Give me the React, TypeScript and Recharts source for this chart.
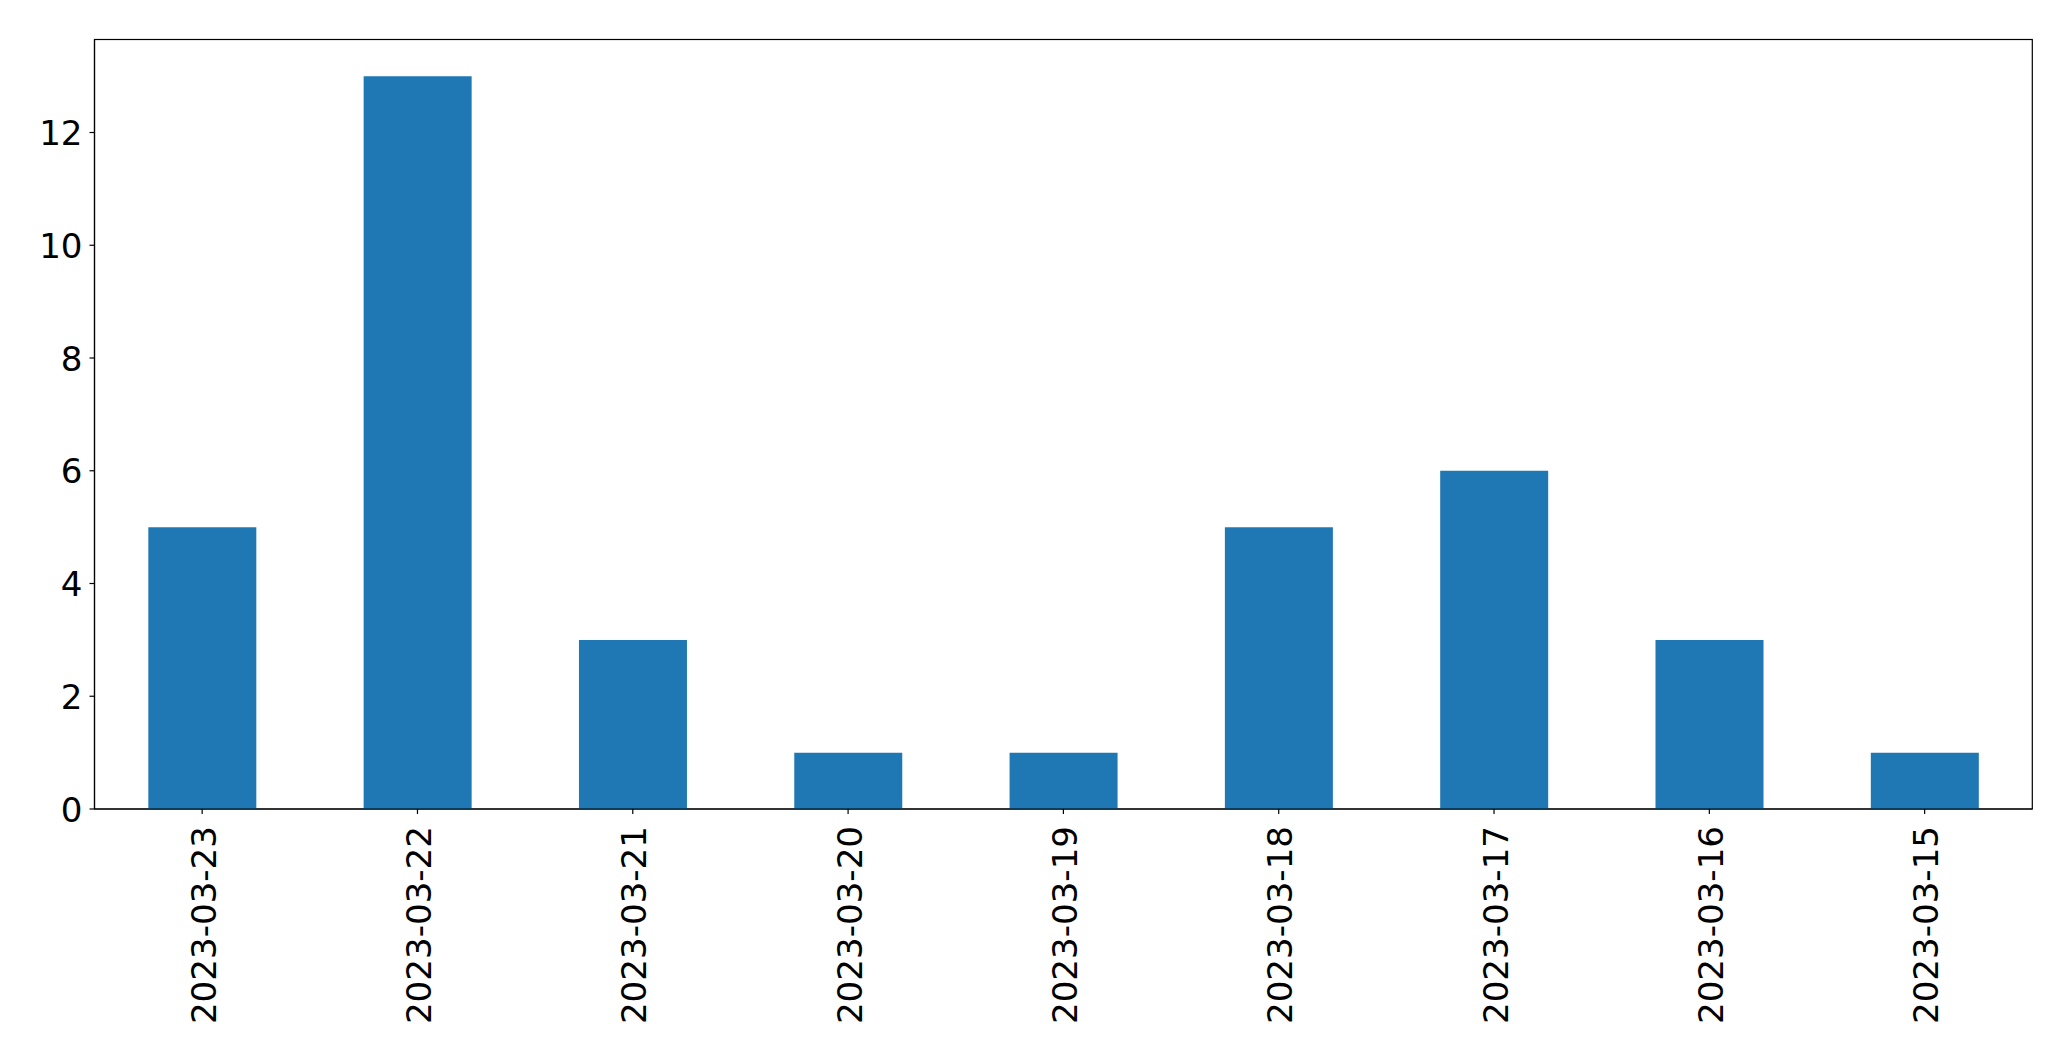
import { BarChart, Bar, XAxis, YAxis, usePlotArea } from "recharts";

const dates = [
  "2023-03-23",
  "2023-03-22",
  "2023-03-21",
  "2023-03-20",
  "2023-03-19",
  "2023-03-18",
  "2023-03-17",
  "2023-03-16",
  "2023-03-15",
];
const counts = [5, 13, 3, 1, 1, 5, 6, 3, 1];
const yTicks = [0, 2, 4, 6, 8, 10, 12];

const data = dates.map((d, i) => ({ date: d, count: counts[i] }));

const FONT = "'DejaVu Sans', sans-serif";
const FS = 34.1;

function XTick(props: any) {
  const { x, y, payload } = props;
  return (
    <g>
      <line x1={x} y1={y} x2={x} y2={y + 5} stroke="#000" strokeWidth={1.2} />
      <text
        x={x}
        y={y + 17}
        dy={13.5}
        transform={`rotate(-90, ${x}, ${y + 17})`}
        textAnchor="end"
        fontFamily={FONT}
        fontSize={FS}
        fill="#000"
      >
        {payload.value}
      </text>
    </g>
  );
}

function YTick(props: any) {
  const { x, y, payload } = props;
  return (
    <g>
      <line x1={x - 5} y1={y} x2={x} y2={y} stroke="#000" strokeWidth={1.2} />
      <text x={x - 12} y={y} dy={12.5} textAnchor="end" fontFamily={FONT} fontSize={FS} fill="#000">
        {payload.value}
      </text>
    </g>
  );
}

function Frame() {
  const area = usePlotArea();
  if (!area) return null;
  return (
    <rect
      x={area.x}
      y={area.y}
      width={area.width}
      height={area.height}
      fill="none"
      stroke="#000"
      strokeWidth={1.2}
    />
  );
}

export default function App() {
  return (
    <div style={{ position: "absolute", left: 0, top: 0, background: "#fff" }}>
      <BarChart
        width={2071}
        height={1061}
        data={data}
        margin={{ top: 39.5, right: 38.7, left: 0, bottom: 0 }}
        barCategoryGap="25%"
      >
        <XAxis
          dataKey="date"
          interval={0}
          height={252}
          tickLine={false}
          tickSize={0}
          tickMargin={0}
          tick={<XTick />}
          axisLine={{ stroke: "#000", strokeWidth: 1.2 }}
        />
        <YAxis
          width={94.5}
          domain={[0, 13.65]}
          ticks={yTicks}
          interval={0}
          tickLine={false}
          tickSize={0}
          tickMargin={0}
          tick={<YTick />}
          axisLine={{ stroke: "#000", strokeWidth: 1.2 }}
        />
        <Bar dataKey="count" fill="#1f77b4" isAnimationActive={false} />
        <Frame />
      </BarChart>
    </div>
  );
}
